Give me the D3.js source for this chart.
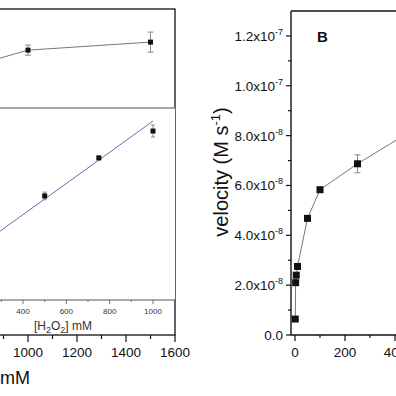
<!DOCTYPE html>
<html><head><meta charset="utf-8">
<script src="https://cdn.jsdelivr.net/npm/d3@7"></script>
<style>body{margin:0;background:#fff}svg{display:block}text{font-family:"Liberation Sans",Arial,sans-serif}</style>
</head><body>
<script>
// Panel A (main, cropped): velocity vs [H2O2] (mM)
const mainX = [800, 1000, 1500];
const mainV = [1.08e-7, 1.136e-7, 1.168e-7];
const mainErr = [0, 2e-9, 4e-9];
const mainTicks = [1000, 1200, 1400, 1600];
const mainTitle = "mM";
// Panel A inset
const insetX = [500, 750, 1000];
const insetV = [0.542, 0.740, 0.880];
const insetErr = [0.02, 0.01, 0.031];
const insetFitX = [200, 1000];
const insetFitV = [0.282, 0.932];
const insetTicks = [400, 600, 800, 1000];
// Panel B
const bX = [1, 2.5, 5, 10, 50, 100, 250, 500];
const bV = [6.4e-9, 2.1e-8, 2.4e-8, 2.75e-8, 4.68e-8, 5.83e-8, 6.87e-8, 8.4e-8];
const bErr = [0, 0, 0, 0, 0, 0, 3.6e-9, 0];
const bYTicks = [0, 2e-8, 4e-8, 6e-8, 8e-8, 1.0e-7, 1.2e-7];
const bXTicks = [0, 200, 400];

const W = 396, H = 396;
const svg = d3.select("body").append("svg").attr("width", W).attr("height", H);

// ---------- Panel A ----------
const xA = d3.scaleLinear().domain([1000, 1600]).range([28, 175]);
const yA = d3.scaleLinear().domain([0, 1.3e-7]).range([335, 9]);
const A = svg.append("g");
A.append("rect").attr("x", xA(0)).attr("y", yA(1.3e-7)).attr("width", xA(1600) - xA(0)).attr("height", yA(0) - yA(1.3e-7))
  .attr("fill", "none").attr("stroke", "#111").attr("stroke-width", 1.3);
const aMinor = d3.range(700, 1601, 100);
A.selectAll(".amt").data(aMinor).join("line")
  .attr("x1", d => xA(d)).attr("x2", d => xA(d)).attr("y1", 335).attr("y2", d => d % 200 === 0 ? 342 : 339)
  .attr("stroke", "#111").attr("stroke-width", 1.2);
A.selectAll(".atl").data(mainTicks).join("text")
  .attr("x", d => xA(d)).attr("y", 357).attr("text-anchor", "middle").attr("font-size", 13.5).attr("fill", "#111").text(d => d);
A.append("text").attr("x", 0).attr("y", 384).attr("font-size", 18).attr("fill", "#111").text(mainTitle);

const lineA = d3.line().x((d, i) => xA(mainX[i])).y(d => yA(d));
A.append("path").attr("d", lineA(mainV)).attr("fill", "none").attr("stroke", "#777").attr("stroke-width", 1);
mainV.forEach((v, i) => {
  if (mainErr[i] > 0) {
    const x = xA(mainX[i]);
    A.append("line").attr("x1", x).attr("x2", x).attr("y1", yA(v - mainErr[i])).attr("y2", yA(v + mainErr[i])).attr("stroke", "#888");
    [v - mainErr[i], v + mainErr[i]].forEach(e => A.append("line").attr("x1", x - 3).attr("x2", x + 3).attr("y1", yA(e)).attr("y2", yA(e)).attr("stroke", "#888"));
  }
});
A.selectAll(".ap").data(mainV).join("rect")
  .attr("x", (d, i) => xA(mainX[i]) - 2.5).attr("y", d => yA(d) - 2.5).attr("width", 5).attr("height", 5).attr("fill", "#111");

// inset
const xI = d3.scaleLinear().domain([400, 1000]).range([23, 153]);
const yI = d3.scaleLinear().domain([0, 1]).range([300, 108]);
const I = svg.append("g");
I.append("rect").attr("x", xI(0)).attr("y", 108).attr("width", 175 - xI(0)).attr("height", 192).attr("fill", "#fff");
I.append("line").attr("x1", xI(0)).attr("x2", 175).attr("y1", 108).attr("y2", 108).attr("stroke", "#888").attr("stroke-width", 1.6);
I.append("line").attr("x1", xI(0)).attr("x2", 175).attr("y1", 300).attr("y2", 300).attr("stroke", "#555").attr("stroke-width", 1);
I.selectAll(".imt").data(d3.range(100, 1101, 100)).join("line")
  .attr("x1", d => xI(d)).attr("x2", d => xI(d)).attr("y1", 300).attr("y2", d => d % 200 === 0 ? 304 : 302)
  .attr("stroke", "#555").attr("stroke-width", 0.8);
I.selectAll(".itl").data(insetTicks).join("text")
  .attr("x", d => xI(d)).attr("y", 314).attr("text-anchor", "middle").attr("font-size", 8).attr("fill", "#333").text(d => d);
const it = I.append("text").attr("x", 63).attr("y", 330).attr("text-anchor", "middle").attr("font-size", 12).attr("fill", "#333");
it.append("tspan").text("[H");
it.append("tspan").attr("font-size", 9).attr("dy", 3).text("2");
it.append("tspan").attr("dy", -3).text("O");
it.append("tspan").attr("font-size", 9).attr("dy", 3).text("2");
it.append("tspan").attr("dy", -3).text("]  mM");
const lineI = d3.line().x((d, i) => xI(insetFitX[i])).y(d => yI(d));
I.append("path").attr("d", lineI(insetFitV)).attr("fill", "none").attr("stroke", "#6a6ab0").attr("stroke-width", 1);
insetV.forEach((v, i) => {
  const x = xI(insetX[i]);
  I.append("line").attr("x1", x).attr("x2", x).attr("y1", yI(v - insetErr[i])).attr("y2", yI(v + insetErr[i])).attr("stroke", "#888");
  [v - insetErr[i], v + insetErr[i]].forEach(e => I.append("line").attr("x1", x - 2).attr("x2", x + 2).attr("y1", yI(e)).attr("y2", yI(e)).attr("stroke", "#888"));
});
I.selectAll(".ip").data(insetV).join("rect")
  .attr("x", (d, i) => xI(insetX[i]) - 2.5).attr("y", d => yI(d) - 2.5).attr("width", 5).attr("height", 5).attr("fill", "#111");

// ---------- Panel B ----------
const xB = d3.scaleLinear().domain([0, 400]).range([295, 395]);
const yB = d3.scaleLinear().domain([0, 1.3e-7]).range([335, 11]);
const B = svg.append("g");
const bLeft = xB(-16);
B.append("line").attr("x1", bLeft).attr("x2", bLeft).attr("y1", 11).attr("y2", 335).attr("stroke", "#111").attr("stroke-width", 1.4);
B.append("line").attr("x1", bLeft).attr("x2", W + 5).attr("y1", 11).attr("y2", 11).attr("stroke", "#111").attr("stroke-width", 1.4);
B.append("line").attr("x1", bLeft).attr("x2", W + 5).attr("y1", 335).attr("y2", 335).attr("stroke", "#111").attr("stroke-width", 1.4);
B.selectAll(".byt").data(d3.range(0, 13).map(k => k * 1e-8)).join("line")
  .attr("x1", bLeft).attr("x2", (d, k) => bLeft - (k % 2 === 0 ? 5 : 3)).attr("y1", d => yB(d)).attr("y2", d => yB(d))
  .attr("stroke", "#111").attr("stroke-width", 1.2);
bYTicks.forEach(v => {
  const t = B.append("text").attr("x", 283).attr("y", yB(v) + 5).attr("text-anchor", "end").attr("font-size", 13.5).attr("fill", "#111");
  if (v === 0) { t.text("0.0"); return; }
  const e = Math.floor(Math.log10(v) + 1e-9);
  const m = v / Math.pow(10, e);
  t.append("tspan").text(m.toFixed(1) + "x10");
  t.append("tspan").attr("font-size", 9).attr("dy", -6).text(String(e));
});
B.selectAll(".bxt").data(d3.range(0, 501, 100)).join("line")
  .attr("x1", d => xB(d)).attr("x2", d => xB(d)).attr("y1", 335).attr("y2", d => d % 200 === 0 ? 341 : 338)
  .attr("stroke", "#111").attr("stroke-width", 1.2);
B.selectAll(".bxl").data(bXTicks).join("text")
  .attr("x", d => xB(d)).attr("y", 357).attr("text-anchor", "middle").attr("font-size", 13.5).attr("fill", "#111").text(d => d);
const yt = B.append("text").attr("transform", "translate(228,172) rotate(-90)").attr("text-anchor", "middle").attr("font-size", 20).attr("fill", "#111");
yt.append("tspan").text("velocity (M s");
yt.append("tspan").attr("font-size", 13).attr("dy", -8).text("-1");
yt.append("tspan").attr("dy", 8).text(")");
B.append("text").attr("x", 317).attr("y", 42).attr("font-size", 15).attr("font-weight", "bold").attr("fill", "#111").text("B");
const lineB = d3.line().x((d, i) => xB(bX[i])).y(d => yB(d));
B.append("path").attr("d", lineB(bV)).attr("fill", "none").attr("stroke", "#777").attr("stroke-width", 1);
bV.forEach((v, i) => {
  if (bErr[i] > 0) {
    const x = xB(bX[i]);
    B.append("line").attr("x1", x).attr("x2", x).attr("y1", yB(v - bErr[i])).attr("y2", yB(v + bErr[i])).attr("stroke", "#888");
    [v - bErr[i], v + bErr[i]].forEach(e => B.append("line").attr("x1", x - 3).attr("x2", x + 3).attr("y1", yB(e)).attr("y2", yB(e)).attr("stroke", "#888"));
  }
});
B.selectAll(".bp").data(bV).join("rect")
  .attr("x", (d, i) => xB(bX[i]) - 3.5).attr("y", d => yB(d) - 3.5).attr("width", 7).attr("height", 7).attr("fill", "#111");
</script>
</body></html>
